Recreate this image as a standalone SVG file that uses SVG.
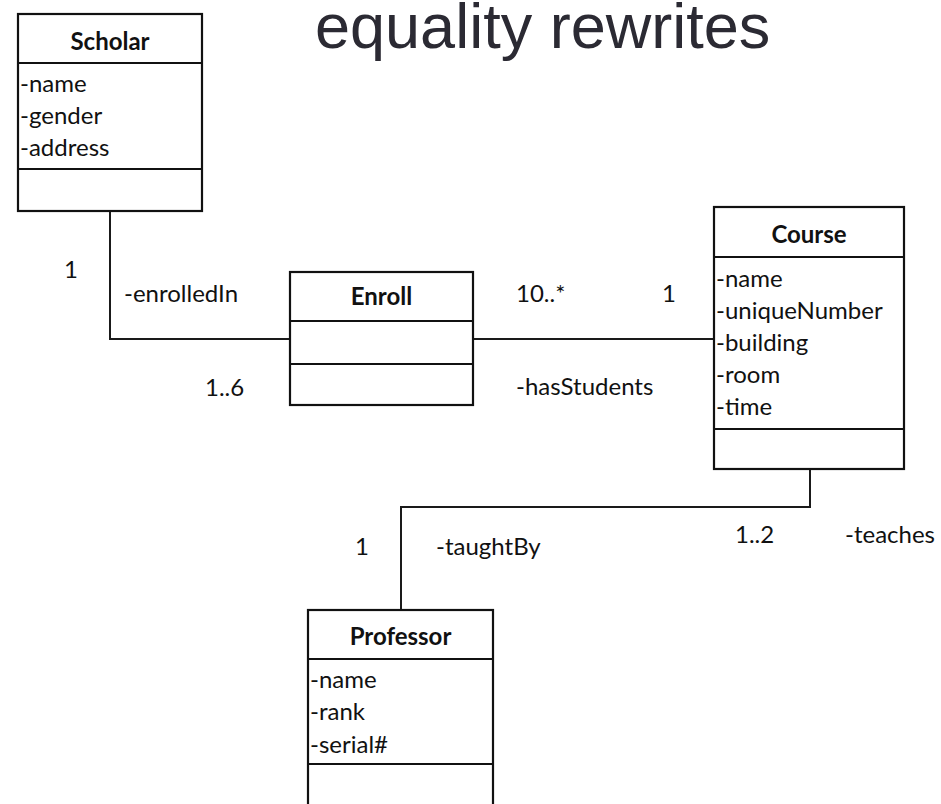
<svg xmlns="http://www.w3.org/2000/svg" width="941" height="804" viewBox="0 0 941 804">
  <style>
    .box { fill: #ffffff; stroke: #111111; stroke-width: 2.2; }
    .sep { stroke: #111111; stroke-width: 2.2; }
    .conn { fill: none; stroke: #1a1a1a; stroke-width: 2; }
    .title { font-family: Lato, "Open Sans", sans-serif; font-size: 24px; font-weight: bold; fill: #111111; text-anchor: middle; }
    .attr { font-family: Lato, "Open Sans", sans-serif; font-size: 24px; fill: #111111; }
    .lbl { font-family: Lato, "Open Sans", sans-serif; font-size: 24px; fill: #111111; }
    .heading { font-family: "Liberation Sans", Arial, sans-serif; font-size: 63px; fill: #2b2a33; }
  </style>
  <rect width="941" height="804" fill="#ffffff"/>

  <text class="heading" x="315" y="48">equality rewrites</text>

  <g id="connectors">
    <polyline class="conn" points="110,211 110,339 290,339"/>
    <line class="conn" x1="473" y1="339" x2="714" y2="339"/>
    <polyline class="conn" points="810,469 810,507 401,507 401,610"/>
  </g>

  <g id="scholar">
    <rect class="box" x="18" y="14" width="184" height="197"/>
    <line class="sep" x1="18" y1="63" x2="202" y2="63"/>
    <line class="sep" x1="18" y1="169" x2="202" y2="169"/>
    <text class="title" x="110" y="50">Scholar</text>
    <text class="attr" x="20" y="92">-name</text>
    <text class="attr" x="20" y="124">-gender</text>
    <text class="attr" x="20" y="156">-address</text>
  </g>

  <g id="enroll">
    <rect class="box" x="290" y="272" width="183" height="133"/>
    <line class="sep" x1="290" y1="321" x2="473" y2="321"/>
    <line class="sep" x1="290" y1="364" x2="473" y2="364"/>
    <text class="title" x="381.5" y="305">Enroll</text>
  </g>

  <g id="course">
    <rect class="box" x="714" y="207" width="190" height="262"/>
    <line class="sep" x1="714" y1="257" x2="904" y2="257"/>
    <line class="sep" x1="714" y1="429" x2="904" y2="429"/>
    <text class="title" x="809" y="243">Course</text>
    <text class="attr" x="716" y="287">-name</text>
    <text class="attr" x="716" y="319">-uniqueNumber</text>
    <text class="attr" x="716" y="351">-building</text>
    <text class="attr" x="716" y="383">-room</text>
    <text class="attr" x="716" y="415">-time</text>
  </g>

  <g id="professor">
    <rect class="box" x="308" y="610" width="185" height="210"/>
    <line class="sep" x1="308" y1="659" x2="493" y2="659"/>
    <line class="sep" x1="308" y1="764" x2="493" y2="764"/>
    <text class="title" x="400.5" y="645">Professor</text>
    <text class="attr" x="310" y="688">-name</text>
    <text class="attr" x="310" y="720">-rank</text>
    <text class="attr" x="310" y="753">-serial#</text>
  </g>

  <g id="labels">
    <text class="lbl" x="64" y="278">1</text>
    <text class="lbl" x="124" y="302">-enrolledIn</text>
    <text class="lbl" x="205" y="396">1..6</text>
    <text class="lbl" x="516" y="302">10..*</text>
    <text class="lbl" x="662" y="302">1</text>
    <text class="lbl" x="516" y="395">-hasStudents</text>
    <text class="lbl" x="355" y="555">1</text>
    <text class="lbl" x="436" y="555">-taughtBy</text>
    <text class="lbl" x="735" y="543">1..2</text>
    <text class="lbl" x="845" y="543">-teaches</text>
  </g>
</svg>
